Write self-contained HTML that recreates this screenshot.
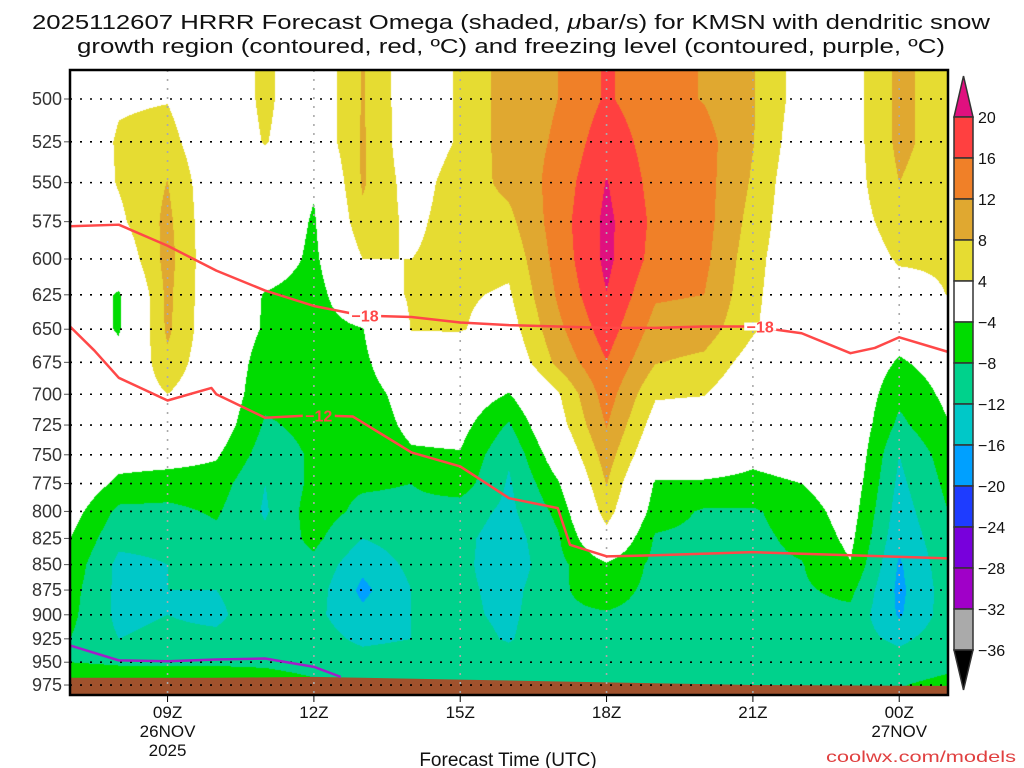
<!DOCTYPE html>
<html><head><meta charset="utf-8"><style>
html,body{margin:0;padding:0;background:#fff;width:1024px;height:768px;overflow:hidden}
#wrap{position:relative;width:1024px;height:768px}
#shade{position:absolute;left:70px;top:70px}
svg{position:absolute;left:0;top:0}
text{font-family:"Liberation Sans",sans-serif}
</style></head><body>
<div id="wrap">
<canvas id="shade" width="878" height="625"></canvas>
<svg id="svg" width="1024" height="768" xmlns="http://www.w3.org/2000/svg"></svg>
</div>
<script>
// ---- data ----
const hours = [7,8,9,10,11,12,13,14,15,16,17,18,19,20,21,22,23,24,25];
const levels = [500,525,550,575,600,625,650,675,700,725,750,775,800,825,850,875,900,925,950,975];
const omegaH7  = [0,0,0,0,0,0,0,0,0,0,0,0,-2,-4,-5.5,-6.5,-7,-8,-8,-4.5];
const omegaH8  = [3.5,4.5,4.3,3,0,-4.5,-4.5,-2,0,0,-2,-5,-9,-11,-13,-13,-13,-12,-8.5,-5];
const omegaH9  = [3.8,5.5,8.1,9,9.5,9,8.8,7,4,0,-2,-6,-9,-11,-12,-12,-12,-11,-8.5,-5];
const omegaH10 = [0,0,0,0,0,0,0,0,0,-1,-3.5,-6,-7.5,-9,-11,-12,-13,-11,-8.5,-5.5];
const omegaH11 = [5,4.3,1,0,-1,-4.3,-4.5,-6,-7,-8.5,-10,-12,-12.5,-11,-10,-9.5,-9,-9,-8.5,-6.5];
const omegaH12 = [0,0,-3.5,-4.5,-5,-6,-6,-6,-6.5,-7,-7.5,-7,-6,-7,-9,-10,-11,-10,-9,-7.5];
const omegaH13 = [8.3,8.5,8.5,7,4,1,-4.2,-5,-6,-6.5,-7,-7.5,-9,-12,-15,-17,-15,-13,-10,-8.2];
const omegaH14 = [1,1,2,3,4,4.5,4.2,1,-2,-3,-4.5,-8,-9,-10,-11,-12,-12,-12,-9.5,-8.2];
const omegaH15 = [4.5,4.5,6,6,5.5,4.5,4.3,0,-1,-2.5,-4.3,-6,-10,-11,-11,-11,-11,-10,-9,-8.2];
const omegaH16 = [10,10,9,7,5,3.5,2,0,-4.2,-8.5,-11.5,-12.5,-13,-14,-14.5,-13.5,-13,-12.5,-9.5,-8.2];
const omegaH17 = [12,12.5,13.5,14,13.5,12.5,11,9,3.5,2,-1,-4.5,-7,-8.5,-9,-8.5,-8.5,-8,-8.5,-8.2];
const omegaH18 = [16.5,18.5,20.2,21,21,19.9,18,15.9,14,12.2,10,8.2,6,2,-4.5,-6.5,-8.3,-8.5,-8.5,-8.2];
const omegaH19 = [13.5,14,14.5,15,14.5,12.5,10.5,8.2,4.5,2,-0.5,-4.5,-6,-8.5,-9,-9,-9,-8.5,-8.5,-8.2];
const omegaH20 = [11.8,13.5,13.5,13.5,13,12,10,7,4.2,1,-1,-4.5,-8.5,-9,-9,-9,-9,-9,-8.5,-8.2];
const omegaH21 = [8.3,8.2,7.5,6.5,5.5,5,4.5,2,0,-1,-3,-5,-8.5,-9,-9,-9,-9,-9,-8.5,-8.2];
const omegaH22 = [2,1,0,0,0,0,0,0,0,0,-2,-4,-6,-7,-8.2,-8.5,-9,-9,-8.5,-8.2];
const omegaH23 = [2,2,2,2,1,0,0,0,0,0,0,-1,-2,-3,-4.2,-7,-9,-10,-9,-8.2];
const omegaH24 = [9,9,8,6,4.5,2,-2,-4.5,-7,-9,-12,-13,-14,-15,-16.5,-17,-16.5,-13,-10,-8.2];
const omegaH25 = [6,6,5.5,5,4.5,4.1,0,-2,-3,-4.2,-6,-7,-8,-9,-9.5,-10,-10,-9.5,-9,-7];
const omega = [omegaH7,omegaH8,omegaH9,omegaH10,omegaH11,omegaH12,omegaH13,omegaH14,omegaH15,omegaH16,omegaH17,omegaH18,omegaH19,omegaH20,omegaH21,omegaH22,omegaH23,omegaH24,omegaH25];
const colorLevels = [-36,-32,-28,-24,-20,-16,-12,-8,-4,4,8,12,16,20];
const colorFills = ["#000000","#aaaaaa","#a000c8","#7800dc","#1e3cff","#00a0ff","#00c8c8","#00d28c","#00dc00","#ffffff","#e6dc32","#e0a830","#f08028","#ff4040","#e0107f"];
const tdHours = [7,8,9,10,11,12,13,14,15,16,17,18,19,20,21,22,23,23.5,24,25];
const t18P = [578,577,591,608,622,633,640,641,645,647,648,649,649,648,648,653,668,664,656,667];
const t12Hours = [7,7.5,8,9,9.9,10,11,12,12.8,14,15,16,17,17.25,18,19,21,25];
const t12P = [648,666,687,705,695,700,719,717,718,748,760,788,797,831,842,841,838,844];
const frzHours = [7,8,9,10,11,12,12.55];
const frzP = [932,948,949,947,946,955,966];
const sfcHours = [7,10,12,15,18,21,25];
const sfcP = [967,967,966,969,972,975,976];
const yTicks = [500,525,550,575,600,625,650,675,700,725,750,775,800,825,850,875,900,925,950,975];
const xTickHours = [9,12,15,18,21,24];
const xTickLabels = ["09Z","12Z","15Z","18Z","21Z","00Z"];
const cbLabels = ["20","16","12","8","4","\u22124","\u22128","\u221212","\u221216","\u221220","\u221224","\u221228","\u221232","\u221236"];

// ---- axes ----
const PL=70, PT=70, PR=948, PB=695;
const H0=7, H1=25;
function xs(h){return PL+(h-H0)*(PR-PL)/(H1-H0);}
function ys(p){return 99+877.5*Math.log(p/500);}
function hOf(x){return H0+(x-PL)*(H1-H0)/(PR-PL);}
function pOf(y){return 500*Math.exp((y-99)/877.5);}

// ---- shading ----
function val(h,p){
  let fi=Math.max(0,Math.min(hours.length-1.0001,(h-hours[0])));
  let i=Math.floor(fi), tx=fi-i;
  let fj=(p-levels[0])/25; fj=Math.max(0,Math.min(levels.length-1.0001,fj));
  let j=Math.floor(fj), ty=fj-j;
  const a=omega[i][j],b=omega[i+1][j],c=omega[i][j+1],d=omega[i+1][j+1];
  return (a*(1-tx)+b*tx)*(1-ty)+(c*(1-tx)+d*tx)*ty;
}
function colorOf(v){let k=0;while(k<colorLevels.length&&v>=colorLevels[k])k++;return colorFills[k];}
const cv=document.getElementById('shade'),ctx=cv.getContext('2d');
const img=ctx.createImageData(878,625);
const cache={};
function rgb(c){if(!cache[c])cache[c]=[parseInt(c.substr(1,2),16),parseInt(c.substr(3,2),16),parseInt(c.substr(5,2),16)];return cache[c];}
for(let y=0;y<625;y++){const p=pOf(y+PT+0.5);for(let x=0;x<878;x++){const c=rgb(colorOf(val(hOf(x+PL+0.5),p)));const o=(y*878+x)*4;img.data[o]=c[0];img.data[o+1]=c[1];img.data[o+2]=c[2];img.data[o+3]=255;}}
ctx.putImageData(img,0,0);

// ---- svg ----
const svg=document.getElementById('svg');const NS="http://www.w3.org/2000/svg";
function el(tag,attrs,parent){const e=document.createElementNS(NS,tag);for(const k in attrs)e.setAttribute(k,attrs[k]);(parent||svg).appendChild(e);return e;}
function txt(s,attrs){const e=el('text',attrs);e.textContent=s;return e;}

// ground
let gpts=sfcHours.map((h,i)=>xs(h)+","+ys(sfcP[i])).join(" ")+" "+PR+","+PB+" "+PL+","+PB;
const ground=el('polygon',{points:gpts,fill:"#a0522d"});



// grid
yTicks.forEach(p=>{const g=el('line',{x1:PL,x2:PR,y1:ys(p),y2:ys(p),stroke:"#000","stroke-width":1.6,"stroke-dasharray":"2 8"});

el('line',{x1:PL-6,x2:PL,y1:ys(p),y2:ys(p),stroke:"#555","stroke-width":1});
const lb=txt(String(p),{x:62,y:ys(p)+6,"font-size":18,fill:"#333","text-anchor":"end"});
});
xTickHours.forEach((h,i)=>{const g=el('line',{x1:xs(h),x2:xs(h),y1:PT,y2:PB,stroke:"#aaa","stroke-width":1.6,"stroke-dasharray":"2 7"});

el('line',{x1:xs(h),x2:xs(h),y1:PB,y2:PB+7,stroke:"#000","stroke-width":1});
const lb=txt(xTickLabels[i],{x:xs(h),y:718,"font-size":17,fill:"#111","text-anchor":"middle"});
});
[[9,"26NOV"],[24,"27NOV"]].forEach(d=>{const t=txt(d[1],{x:xs(d[0]),y:737,"font-size":17,fill:"#111","text-anchor":"middle"});});
const yr=txt("2025",{x:xs(9),y:756,"font-size":17,fill:"#111","text-anchor":"middle"});


// contour lines
function line(hs,ps,color,name){const d=hs.map((h,i)=>(i?"L":"M")+xs(h)+","+ys(ps[i])).join("");const e=el('path',{d:d,fill:"none",stroke:color,"stroke-width":2.5,"stroke-linejoin":"round"});return e;}
line(tdHours,t18P,"#ff4848","minus18-contour");
line(t12Hours,t12P,"#ff4848","minus12-contour");
line(frzHours,frzP,"#a020c8","freezing-level-contour");
function clabel(s,h,p,name,bg){el('rect',{x:xs(h)-16,y:ys(p)-4,width:32,height:8,fill:bg});const t=txt(s,{x:xs(h),y:ys(p)+6,"font-size":16,"font-weight":"bold",fill:"#ff4848","text-anchor":"middle"});}
clabel("\u221218",13.05,640,"contour-label-minus18","#ffffff");
clabel("\u221218",21.15,648,"contour-label-minus18-right","#ffffff");
clabel("\u221212",12.1,717,"contour-label-minus12","#00dc00");

// frame
const fr=el('rect',{x:PL,y:PT,width:PR-PL,height:PB-PT,fill:"none",stroke:"#000","stroke-width":2.5});


// colorbar
const cbX=954,cbW=19,cbTop=117,cbStep=(650-117)/13;
const cb=el('g',{});
el('polygon',{points:`${cbX},${cbTop} ${cbX+cbW},${cbTop} ${cbX+cbW/2},76`,fill:colorFills[14],stroke:"#333","stroke-width":1.5},cb);
for(let k=0;k<13;k++){el('rect',{x:cbX,y:cbTop+k*cbStep,width:cbW,height:cbStep,fill:colorFills[13-k],stroke:"#333","stroke-width":1.5},cb);}
el('polygon',{points:`${cbX},650 ${cbX+cbW},650 ${cbX+cbW/2},690`,fill:"#000",stroke:"#333","stroke-width":1.5},cb);
cbLabels.forEach((s,k)=>{const t=txt(s,{x:978,y:cbTop+k*cbStep+6,"font-size":16,fill:"#111"});});

// titles
const t1=txt("",{x:511,y:29,"font-size":20,fill:"#111","text-anchor":"middle",textLength:958,lengthAdjust:"spacingAndGlyphs"});
t1.innerHTML='2025112607 HRRR Forecast Omega (shaded, <tspan font-style="italic">\u03bc</tspan>bar/s) for KMSN with dendritic snow';

const t2=txt("growth region (contoured, red, \u00baC) and freezing level (contoured, purple, \u00baC)",{x:511,y:53,"font-size":20,fill:"#111","text-anchor":"middle",textLength:868,lengthAdjust:"spacingAndGlyphs"});

const xt=txt("Forecast Time (UTC)",{x:508,y:766,"font-size":19,fill:"#111","text-anchor":"middle"});

const cr=txt("coolwx.com/models",{x:1016,y:762,"font-size":16,fill:"#e04040","text-anchor":"end",textLength:190,lengthAdjust:"spacingAndGlyphs"});

</script>
</body></html>
